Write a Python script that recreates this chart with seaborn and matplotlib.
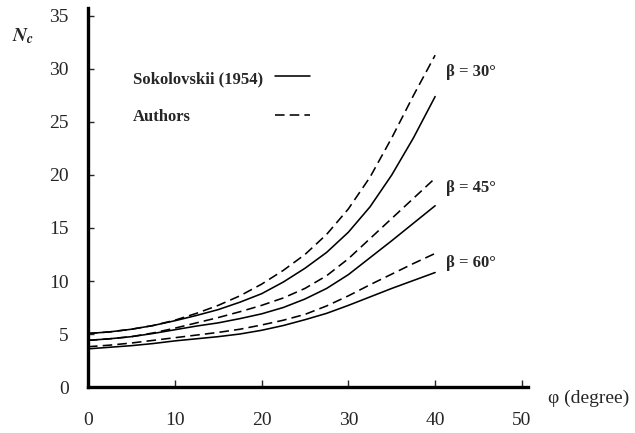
import numpy as np
import pandas as pd
import matplotlib
matplotlib.use("Agg")
import matplotlib.pyplot as plt
import seaborn as sns
from matplotlib.lines import Line2D

# ---- data ----
phi = [0, 2.5, 5, 7.5, 10, 12.5, 15, 17.5, 20, 22.5, 25, 27.5, 30, 32.5, 35, 37.5, 40]

soko_b30 = [5.05, 5.2, 5.45, 5.8, 6.25, 6.75, 7.3, 8.0, 8.8, 9.9, 11.2, 12.7, 14.6, 17.0, 20.0, 23.5, 27.4]
auth_b30 = [5.05, 5.2, 5.45, 5.8, 6.3, 6.95, 7.7, 8.6, 9.7, 11.0, 12.5, 14.4, 16.8, 19.8, 23.5, 27.5, 31.3]
soko_b45 = [4.4, 4.55, 4.75, 5.05, 5.4, 5.75, 6.05, 6.45, 6.9, 7.5, 8.3, 9.3, 10.6, 12.2, 13.8, 15.45, 17.1]
auth_b45 = [4.4, 4.55, 4.75, 5.1, 5.55, 6.05, 6.55, 7.1, 7.7, 8.4, 9.3, 10.5, 12.1, 14.0, 15.9, 17.8, 19.7]
soko_b60 = [3.6, 3.75, 3.9, 4.1, 4.35, 4.55, 4.75, 5.0, 5.35, 5.8, 6.35, 6.95, 7.7, 8.5, 9.3, 10.05, 10.8]
auth_b60 = [3.8, 3.95, 4.15, 4.4, 4.65, 4.9, 5.15, 5.45, 5.85, 6.3, 6.85, 7.65, 8.6, 9.65, 10.65, 11.65, 12.6]

betas = ["30", "45", "60"]
methods = ["Sokolovskii (1954)", "Authors"]
series = {
    ("30", methods[0]): soko_b30, ("30", methods[1]): auth_b30,
    ("45", methods[0]): soko_b45, ("45", methods[1]): auth_b45,
    ("60", methods[0]): soko_b60, ("60", methods[1]): auth_b60,
}
curve_labels = ["β = 30°", "β = 45°", "β = 60°"]
curve_label_y = [29.7, 18.8, 11.7]
x_ticks = [0, 10, 20, 30, 40, 50]
y_ticks = [0, 5, 10, 15, 20, 25, 30, 35]

rows = []
for (b, m), vals in series.items():
    for p, v in zip(phi, vals):
        rows.append({"phi": p, "Nc": v, "beta": b, "method": m})
df = pd.DataFrame(rows)

# ---- styling ----
sns.set_style("ticks")
plt.rcParams["font.family"] = ["Liberation Serif", "DejaVu Serif"]
plt.rcParams["mathtext.fontset"] = "stix"

fig = plt.figure(figsize=(6.35, 4.33), dpi=100)
ax = fig.add_axes([0.1386, 0.1062, 0.8315 - 0.1386, 0.9815 - 0.1062])

dash = (6, 3.2)
sns.lineplot(data=df, x="phi", y="Nc", hue="beta", style="method",
             palette=["black"] * 3, dashes={methods[0]: "", methods[1]: dash},
             linewidth=1.15, legend=False, ax=ax, estimator=None, sort=False)

ax.set_xlim(0, 50.7)
ax.set_ylim(0, 35.75)
ax.set_xticks(x_ticks)
ax.set_yticks(y_ticks)
ax.set_xlabel("")
ax.set_ylabel("")
for s in ["top", "right"]:
    ax.spines[s].set_visible(False)
for s in ["left", "bottom"]:
    ax.spines[s].set_linewidth(2.4)
    ax.spines[s].set_color("black")
ax.tick_params(axis="x", direction="in", length=5, width=1, pad=18, labelsize=14)
ax.tick_params(axis="y", direction="in", length=4, width=1, pad=14, labelsize=14)

# axis titles
fig.text(548 / 635, 1 - 398 / 433, "φ (degree)", fontsize=14, ha="left", va="center")
fig.text(12 / 635, 1 - 36 / 433, r"$\mathbfit{N}_{\mathbfit{c}}$", fontsize=14,
         ha="left", va="center")

# legend: labels as text on the left, line samples aligned on the right
leg_font = {"family": "Liberation Serif", "weight": "bold", "size": 12}
fig.text(133 / 635, 1 - 79 / 433, methods[0], fontdict=leg_font, ha="left", va="center")
fig.text(133 / 635, 1 - 117 / 433, methods[1], fontdict=leg_font, ha="left", va="center")
handles = [Line2D([], [], color="black", lw=1.15, linestyle="-"),
           Line2D([], [], color="black", lw=1.15, linestyle=(0, dash))]
leg = ax.legend(handles, ["", ""], loc="center left",
                bbox_to_anchor=(275 / 635, 1 - 97.5 / 433),
                bbox_transform=fig.transFigure, frameon=False,
                handlelength=2.1, handletextpad=0, borderpad=0, borderaxespad=0,
                labelspacing=1.35, prop=leg_font)

# curve labels
for lab, yv in zip(curve_labels, curve_label_y):
    ax.text(41.3, yv, lab, fontsize=12, fontweight="bold", ha="left", va="center")

fig.savefig("out.png", dpi=100)
